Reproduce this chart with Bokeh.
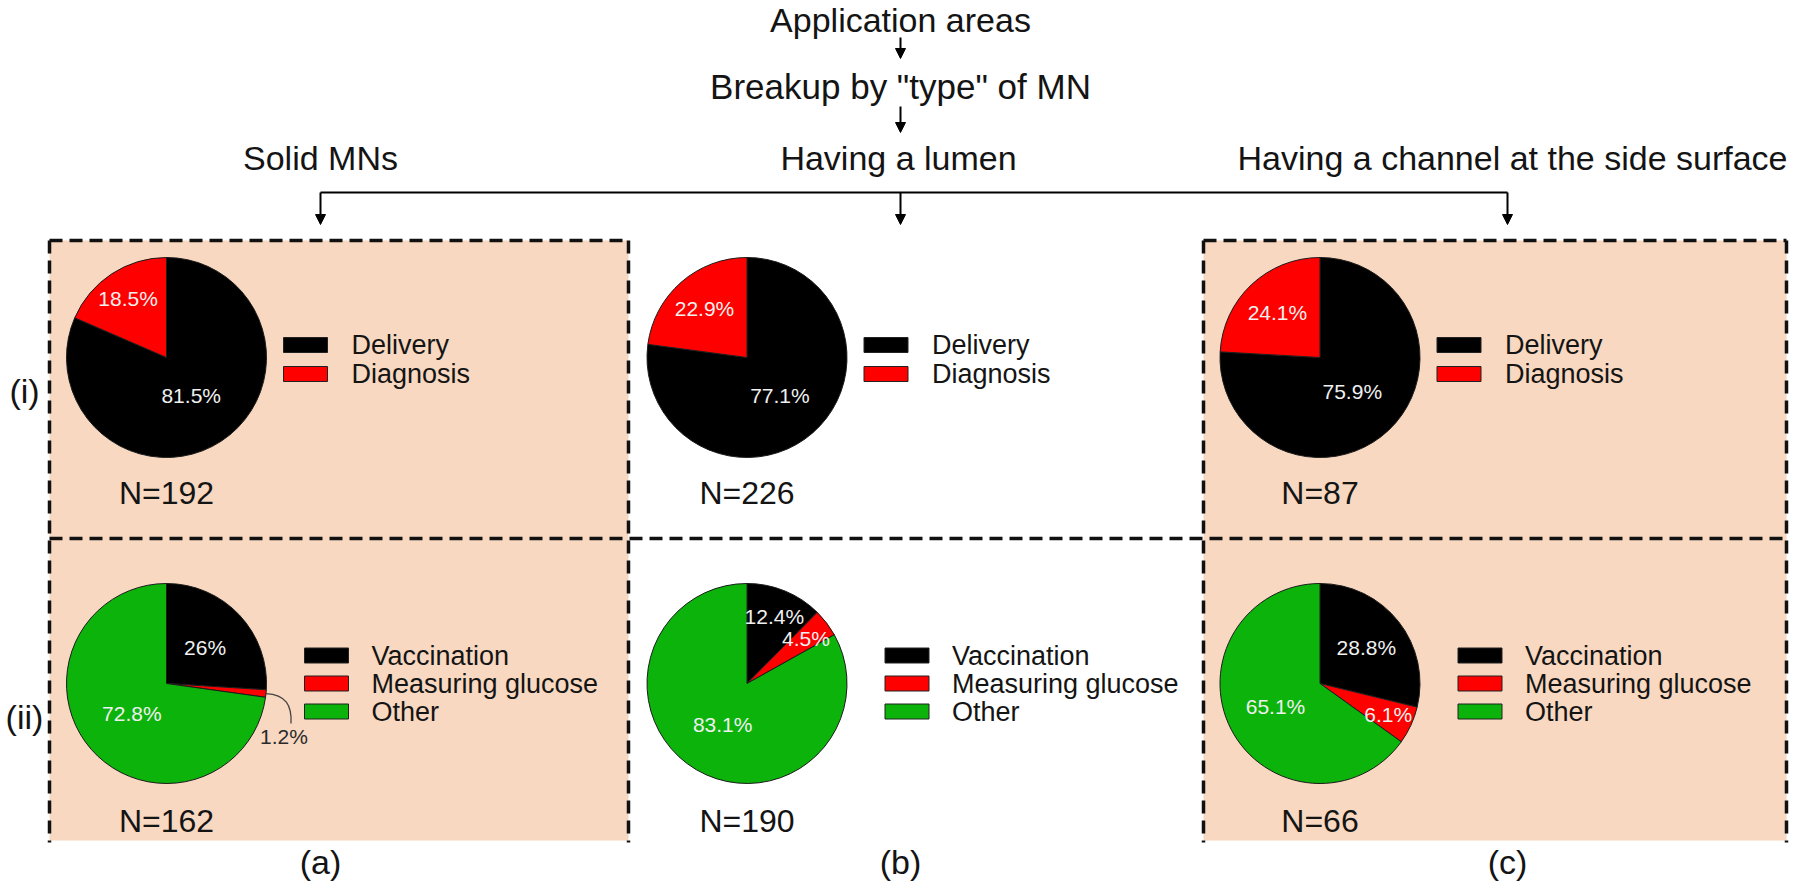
import numpy as np
from bokeh.plotting import figure
from bokeh.models import Range1d, Arrow, NormalHead
from bokeh.core.properties import value
from bokeh.embed import file_html
from bokeh.resources import INLINE

# ---------------- data ----------------
title_top = "Application areas"
title_mid = 'Breakup by "type" of MN'
type_names = ["Solid MNs", "Having a lumen", "Having a channel at the side surface"]
panel_tags = ["(a)", "(b)", "(c)"]
row_tags = ["(i)", "(ii)"]

app_cats = ["Delivery", "Diagnosis"]
delivery = [81.5, 77.1, 75.9]
diagnosis = [18.5, 22.9, 24.1]
n_app = [192, 226, 87]

sub_cats = ["Vaccination", "Measuring glucose", "Other"]
vaccination = [26.0, 12.4, 28.8]
glucose = [1.2, 4.5, 6.1]
other = [72.8, 83.1, 65.1]
n_sub = [162, 190, 66]

# ---------------- style / layout ----------------
FONT = value("Liberation Sans")
BLACK, RED, GREEN = "#000000", "#FF0000", "#0BB30B"
PEACH = "#F8D8C0"
TXT = "#141414"
app_colors = [BLACK, RED]
sub_colors = [BLACK, RED, GREEN]

W, H = 1798, 887
R = 100
col_x = [166, 746.5, 1319.5]
row_y = [357, 683]
arrow_x = [320, 900, 1507]
head_x = [320, 898, 1512]
# radial position (fraction of radius) of each percentage label
app_label_frac = [[0.45, 0.70], [0.50, 0.645], [0.47, 0.62]]
sub_label_frac = [[0.53, None, 0.46], [0.72, 0.74, 0.48], [0.59, 0.75, 0.50]]

p = figure(width=W, height=H, x_range=Range1d(0, W), y_range=Range1d(-H, 0),
           output_backend="svg", toolbar_location=None, x_axis_location=None,
           y_axis_location=None, min_border=0)
p.grid.visible = False
p.outline_line_color = None
p.background_fill_color = "white"
p.border_fill_color = "white"


def txt(x, y, s, size, align="center", color=TXT):
    p.text(x=[x], y=[-y], text=[s], text_font=FONT, text_font_size=value(f"{size}px"),
           text_align=align, text_baseline="middle", text_color=color)


# shaded panels
box_l = [49, 1203]
box_r = [628, 1786]
TOP, MID, BOT = 240, 538, 842
p.quad(left=box_l, right=box_r, top=[-TOP] * 2, bottom=[-(BOT - 2)] * 2,
       fill_color=PEACH, line_color=None)

# dashed frame lines
x0 = [49, 1203, 49] + [49, 628, 1203, 1786]
x1 = [628, 1786, 1786] + [49, 628, 1203, 1786]
y0 = [TOP, TOP, MID] + [TOP] * 4
y1 = [TOP, TOP, MID] + [BOT] * 4
p.segment(x0=x0, y0=[-v for v in y0], x1=x1, y1=[-v for v in y1],
          line_dash="13 7", line_width=3.5, line_color="#111111")

# header texts and arrows
txt(900, 19, title_top, 34)
txt(900, 86, title_mid, 35)
for hx, name in zip(head_x, type_names):
    txt(hx, 157, name, 34)


def arrow(x, ya, yb):
    p.add_layout(Arrow(end=NormalHead(size=10, fill_color="black", line_color="black"),
                       x_start=x, y_start=-ya, x_end=x, y_end=-yb,
                       line_width=2, line_color="black"))


arrow(900, 37, 58)
arrow(900, 106, 132)
p.segment(x0=[arrow_x[0]], y0=[-192], x1=[arrow_x[-1]], y1=[-192], line_width=2.2, line_color="black")
for ax in arrow_x:
    arrow(ax, 192, 224)


def draw_pie(cx, cy, vals, colors, fracs):
    v = np.array(vals, dtype=float)
    cum = np.concatenate([[0], np.cumsum(v)]) / v.sum()
    starts = np.pi / 2 - 2 * np.pi * cum[:-1]
    ends = np.pi / 2 - 2 * np.pi * cum[1:]
    p.wedge(x=[cx] * len(v), y=[-cy] * len(v), radius=R, start_angle=starts, end_angle=ends,
            direction="clock", fill_color=colors, line_color="#1c1c1c", line_width=1)
    for i, val in enumerate(vals):
        th = 2 * np.pi * (cum[i] + cum[i + 1]) / 2
        lab = "{:g}%".format(val)
        f = fracs[i]
        if f is None:
            ex, ey = cx + R * np.sin(th), cy - R * np.cos(th)
            p.bezier(x0=[ex], y0=[-ey], x1=[ex + 25], y1=[-(ey + 30)],
                     cx0=[ex + 20], cy0=[-(ey + 1)], cx1=[ex + 26], cy1=[-(ey + 12)],
                     line_color="#444444", line_width=1.3)
            txt(ex + 18, ey + 43, lab, 21, color="#2a2a2a")
        else:
            lx = cx + f * R * np.sin(th)
            ly = cy - f * R * np.cos(th)
            txt(lx, ly, lab, 21, color="#F0F0F0")


def draw_legend(cx, cy, cats, colors, box_dx, text_dx, dys):
    for c, col, dy in zip(cats, colors, dys):
        p.rect(x=[cx + box_dx + 22], y=[-(cy + dy)], width=44, height=15,
               fill_color=col, line_color="#222222", line_width=1)
        txt(cx + text_dx, cy + dy, c, 27, align="left")


for j in range(3):
    cx = col_x[j]
    # row (i)
    cy = row_y[0]
    draw_pie(cx, cy, [delivery[j], diagnosis[j]], app_colors, app_label_frac[j])
    draw_legend(cx, cy, app_cats, app_colors, 117, 185, [-12.5, 16.5])
    txt(cx, cy + 135, f"N={n_app[j]}", 32)
    # row (ii)
    cy = row_y[1]
    draw_pie(cx, cy, [vaccination[j], glucose[j], other[j]], sub_colors, sub_label_frac[j])
    draw_legend(cx, cy, sub_cats, sub_colors, 138, 205, [-28, 0, 28])
    txt(cx, cy + 137, f"N={n_sub[j]}", 32)
    # panel tag
    txt(arrow_x[j], 861, panel_tags[j], 34)

for cy, tag in zip(row_y, row_tags):
    txt(24, cy + 33, tag, 34)

open("out.html", "w").write(file_html(p, INLINE))
